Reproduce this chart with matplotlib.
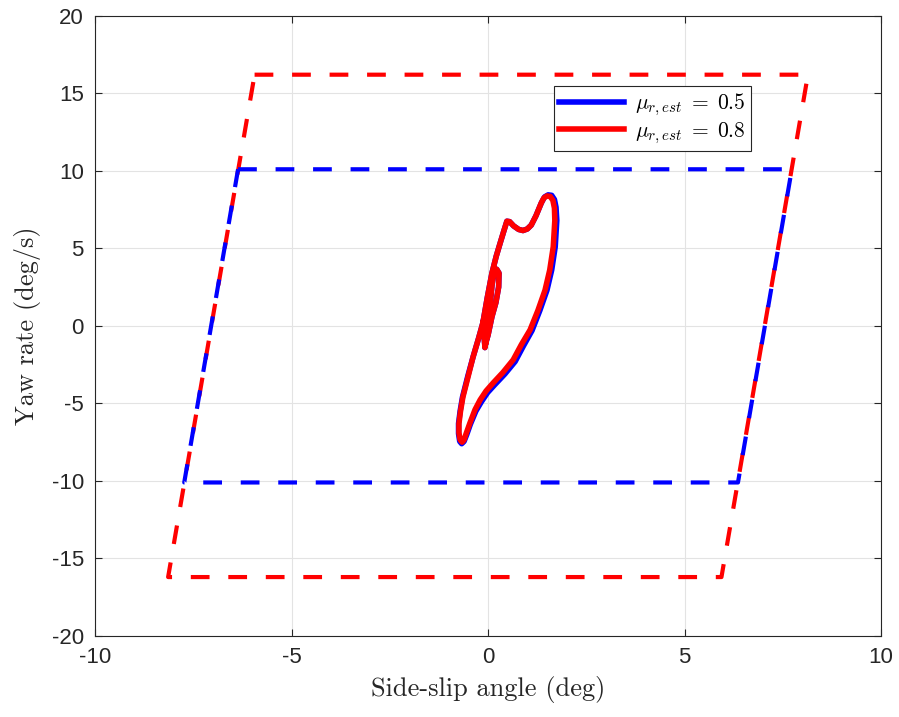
import matplotlib
matplotlib.use('Agg')
import matplotlib.pyplot as plt

# stability envelopes (side-slip deg, yaw rate deg/s)
env_blue_x = [-6.36, 7.73, 6.36, -7.73, -6.36]
env_blue_y = [10.1, 10.1, -10.1, -10.1, 10.1]
env_red_x = [-5.94, 8.14, 5.94, -8.14, -5.94]
env_red_y = [16.2, 16.2, -16.2, -16.2, 16.2]

# trajectory, mu_est = 0.8
beta_red = [0.00, 0.05, -0.05, 0.08, -0.08, 0.02, 0.10, 0.15, 0.22, 0.28, 0.27, 0.20, 0.10,
            0.00, -0.08, -0.13, -0.02, 0.10, 0.21, 0.31, 0.40, 0.48, 0.55, 0.65, 0.78,
            0.89, 1.00, 1.10, 1.22, 1.35, 1.42, 1.50, 1.58, 1.65, 1.69, 1.70, 1.66, 1.57,
            1.45, 1.27, 1.07, 0.85, 0.64, 0.38, 0.13, -0.05, -0.20, -0.33, -0.46, -0.55,
            -0.61, -0.66, -0.71, -0.74, -0.74, -0.70, -0.64, -0.50, -0.38, -0.24, -0.13]
yaw_red = [0.0, 1.2, -0.8, 0.9, -1.4, 0.5, 2.6, 3.4, 3.65, 3.4, 2.5, 1.5, 0.6,
           -0.6, -1.3, 0.2, 1.8, 3.4, 4.5, 5.35, 6.1, 6.75, 6.72, 6.45, 6.22,
           6.15, 6.25, 6.5, 7.1, 7.9, 8.25, 8.38, 8.35, 8.1, 7.6, 6.8, 5.1, 3.6,
           2.3, 1.0, -0.26, -1.2, -2.19, -3.0, -3.68, -4.2, -4.77, -5.4, -6.26, -6.9,
           -7.35, -7.5, -7.35, -6.9, -6.3, -5.5, -4.6, -3.2, -2.0, -0.8, 0.2]

# trajectory, mu_est = 0.5 (slightly wider on the right side)
beta_blue = [0.00, 0.05, -0.05, 0.08, -0.08, 0.02, 0.10, 0.15, 0.22, 0.28, 0.27, 0.20, 0.10,
             0.00, -0.08, -0.13, -0.02, 0.10, 0.21, 0.31, 0.40, 0.48, 0.55, 0.65, 0.78,
             0.89, 1.00, 1.10, 1.22, 1.36, 1.44, 1.53, 1.62, 1.69, 1.73, 1.75, 1.71, 1.62,
             1.50, 1.32, 1.12, 0.90, 0.69, 0.43, 0.17, -0.01, -0.17, -0.31, -0.45, -0.54,
             -0.61, -0.67, -0.72, -0.75, -0.75, -0.71, -0.65, -0.51, -0.38, -0.24, -0.13]
yaw_blue = [0.0, 1.2, -0.8, 0.9, -1.4, 0.5, 2.6, 3.4, 3.65, 3.4, 2.5, 1.5, 0.6,
            -0.6, -1.3, 0.2, 1.8, 3.4, 4.5, 5.35, 6.1, 6.75, 6.72, 6.45, 6.22,
            6.15, 6.25, 6.5, 7.1, 7.95, 8.32, 8.45, 8.42, 8.15, 7.65, 6.8, 5.1, 3.6,
            2.3, 1.0, -0.3, -1.3, -2.3, -3.1, -3.8, -4.3, -4.9, -5.5, -6.35, -7.0,
            -7.45, -7.6, -7.45, -6.95, -6.3, -5.5, -4.6, -3.2, -2.0, -0.8, 0.2]

labels = [r'$\mu_{r,est}\;=\;0.5$', r'$\mu_{r,est}\;=\;0.8$']

plt.rcParams['mathtext.fontset'] = 'cm'
plt.rcParams['axes.unicode_minus'] = False
plt.rcParams['font.family'] = ['Liberation Sans', 'DejaVu Sans']

fig = plt.figure(figsize=(8.99, 7.17), dpi=100)
ax = fig.add_axes([0.1057, 0.113, 0.8743, 0.865])

dash = (4.5, 4.5)
ax.plot(env_red_x, env_red_y, color='#ff0000', lw=3, dashes=dash, zorder=2)
ax.plot(env_blue_x, env_blue_y, color='#0000ff', lw=3, dashes=dash, zorder=3)

ax.plot(beta_blue, yaw_blue, color='#0000ff', lw=4, label=labels[0], zorder=4,
        solid_joinstyle='round')
ax.plot(beta_red, yaw_red, color='#ff0000', lw=4, label=labels[1], zorder=5,
        solid_joinstyle='round')

ax.set_xlim(-10, 10)
ax.set_ylim(-20, 20)
ax.set_xticks(range(-10, 11, 5))
ax.set_yticks(range(-20, 21, 5))
ax.grid(True, color='#e3e3e3', lw=0.8)
ax.set_axisbelow(True)
ax.tick_params(direction='in', length=5, labelsize=16, top=True, right=True,
               colors='#262626', labelcolor='#262626', pad=8)
for sp in ax.spines.values():
    sp.set_color('#262626')
    sp.set_linewidth(0.8)

ax.set_xlabel('Side-slip angle (deg)', family='cmr10', fontsize=19, color='#262626',
              labelpad=6)
ax.set_ylabel('Yaw rate (deg/s)', family='cmr10', fontsize=19, color='#262626',
              labelpad=8)

leg = ax.legend(loc='upper left', bbox_to_anchor=(0.584, 0.886), fontsize=15.5,
                handlelength=3.0, fancybox=False, edgecolor='#262626',
                framealpha=1, borderpad=0.25, labelspacing=0.1, handletextpad=0.5,
                borderaxespad=0)
leg.get_frame().set_linewidth(0.8)

fig.savefig('out.png', dpi=100)
